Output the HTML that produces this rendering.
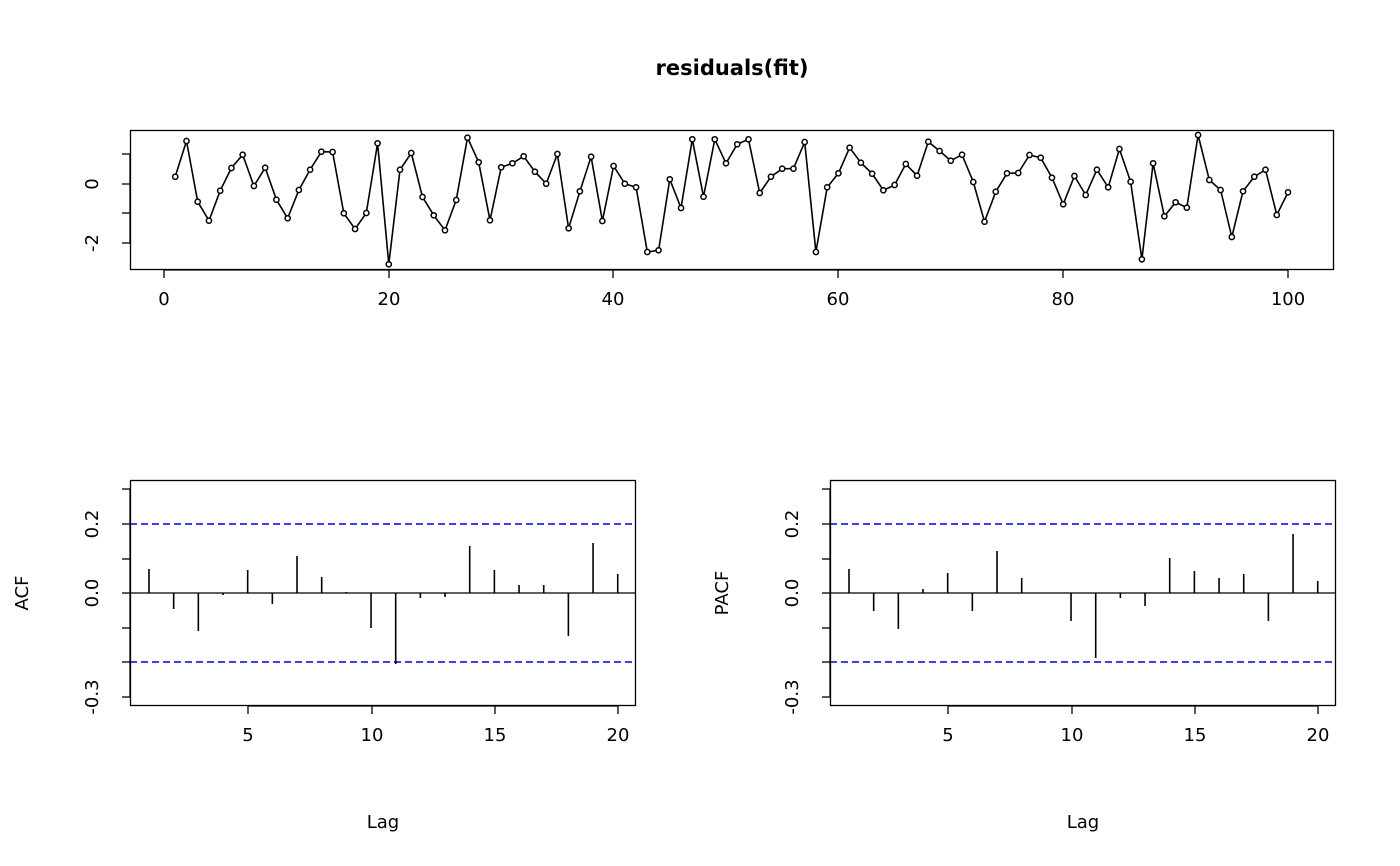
<!DOCTYPE html>
<html><head><meta charset="utf-8"><style>
html,body{margin:0;padding:0;background:#fff}
svg{display:block}
text{font-family:"DejaVu Sans","Liberation Sans",sans-serif;font-size:18px;fill:#000}
</style></head><body>
<svg id="s" width="1400" height="866" xmlns="http://www.w3.org/2000/svg">
<text x="732" y="75" text-anchor="middle" font-weight="bold" style="font-size:21px">residuals(fit)</text>
<rect x="130.5" y="130.5" width="1203" height="139" fill="none" stroke="#000" stroke-width="1.3"/>
<g stroke="#000" stroke-width="1.3">
<line x1="164" y1="270" x2="1288" y2="270"/>
<line x1="164" y1="270" x2="164" y2="278"/><line x1="389" y1="270" x2="389" y2="278"/><line x1="613" y1="270" x2="613" y2="278"/><line x1="838" y1="270" x2="838" y2="278"/><line x1="1063" y1="270" x2="1063" y2="278"/><line x1="1288" y1="270" x2="1288" y2="278"/>
<line x1="130" y1="154" x2="130" y2="243"/>
<line x1="122" y1="154" x2="130" y2="154"/><line x1="122" y1="184" x2="130" y2="184"/><line x1="122" y1="213" x2="130" y2="213"/><line x1="122" y1="243" x2="130" y2="243"/>
</g>
<g text-anchor="middle">
<text x="164" y="305">0</text><text x="389" y="305">20</text><text x="613" y="305">40</text><text x="838" y="305">60</text><text x="1063" y="305">80</text><text x="1288" y="305">100</text>
<text transform="translate(98,184) rotate(-90)">0</text>
<text transform="translate(98,243) rotate(-90)">-2</text>
</g>
<g id="ts"></g>

<rect x="130.5" y="480.5" width="505" height="225" fill="none" stroke="#000" stroke-width="1.3"/>
<line x1="130" y1="524" x2="636" y2="524" stroke="#0000dd" stroke-width="1.5" stroke-dasharray="7,4"/>
<line x1="130" y1="662" x2="636" y2="662" stroke="#0000dd" stroke-width="1.5" stroke-dasharray="7,4"/>
<line x1="130" y1="593" x2="636" y2="593" stroke="#000" stroke-width="1.3"/>
<g id="acf" stroke="#000" stroke-width="1.6"></g>
<rect x="830.5" y="480.5" width="505" height="225" fill="none" stroke="#000" stroke-width="1.3"/>
<line x1="830" y1="524" x2="1336" y2="524" stroke="#0000dd" stroke-width="1.5" stroke-dasharray="7,4"/>
<line x1="830" y1="662" x2="1336" y2="662" stroke="#0000dd" stroke-width="1.5" stroke-dasharray="7,4"/>
<line x1="830" y1="593" x2="1336" y2="593" stroke="#000" stroke-width="1.3"/>
<g id="pacf" stroke="#000" stroke-width="1.6"></g>
<g id="axes" stroke="#000" stroke-width="1.3"></g>
<g id="labs" text-anchor="middle"></g>
</svg>
<script>
var NS="http://www.w3.org/2000/svg";
function el(p,t,a,txt){var e=document.createElementNS(NS,t);for(var k in a)e.setAttribute(k,a[k]);if(txt!==undefined)e.textContent=txt;p.appendChild(e);return e;}
var ys=[176.7,141,201.7,220.7,190.7,168,154.7,186,167.7,199.7,218.3,190,169.7,151.7,152,213.3,229,213,143.3,264.3,169.7,153,197,215.3,230.3,200,137.7,162.3,220.3,167.3,163.3,156.3,171.7,183.7,154,228.3,191.3,156.7,221,166,183.7,187.3,252,250.3,179.3,208,139.3,196.7,139.3,163.3,144.3,139.3,193,176.7,168.7,168.7,142,252,187.3,173.3,147.7,162.7,173.7,190.3,185,164,175.7,141.7,151,160.7,154.7,182,221.7,191.7,173.3,173,155,157.7,177.7,204.3,176,195,169.7,187.3,149,181.7,259.3,163.3,216.3,202.3,207.7,135,180,190,237,191.3,176.7,169.7,215,192.3];
var g=document.getElementById("ts"),pts=[];
for(var i=0;i<100;i++){pts.push((164+11.24*(i+1)).toFixed(1)+","+ys[i]);}
el(g,"polyline",{points:pts.join(" "),fill:"none",stroke:"#000","stroke-width":1.6});
for(var i=0;i<100;i++)el(g,"circle",{cx:164+11.24*(i+1),cy:ys[i],r:2.6,fill:"#fff",stroke:"#000","stroke-width":1.5});
var acf=[569,609,631,595,570,604,556,577,592,628,664,598,597,546,570,585,585,636,543,574];
var pacf=[569,611,629,589,573,611,551,578,593,621,658,598,606,558,571,578,574,621,534,581];
var ga=document.getElementById("acf"),gp=document.getElementById("pacf");
for(var i=0;i<20;i++){var xa=149+24.67*i;el(ga,"line",{x1:xa,y1:593,x2:xa,y2:acf[i]});el(gp,"line",{x1:xa+700,y1:593,x2:xa+700,y2:pacf[i]});}
var ax=document.getElementById("axes"),lb=document.getElementById("labs");
[0,700].forEach(function(o){
 el(ax,"line",{x1:248+o,y1:706,x2:618+o,y2:706});
 [248,372,495,618].forEach(function(x,j){el(ax,"line",{x1:x+o,y1:706,x2:x+o,y2:714});el(lb,"text",{x:x+o,y:741},["5","10","15","20"][j]);});
 el(ax,"line",{x1:130+o,y1:489,x2:130+o,y2:697});
 [489,524,559,593,628,662,697].forEach(function(y){el(ax,"line",{x1:122+o,y1:y,x2:130+o,y2:y});});
 [[524,"0.2"],[593,"0.0"],[697,"-0.3"]].forEach(function(p){el(lb,"text",{transform:"translate("+(98+o)+","+p[0]+") rotate(-90)"},p[1]);});
 el(lb,"text",{x:383+o,y:828},"Lag");
});
el(lb,"text",{transform:"translate(28,593) rotate(-90)"},"ACF");
el(lb,"text",{transform:"translate(728,593) rotate(-90)"},"PACF");
</script>
</body></html>
